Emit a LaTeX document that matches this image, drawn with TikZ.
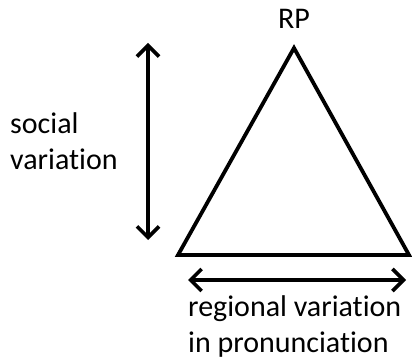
\documentclass[tikz,border=0pt]{standalone}
\usepackage{fontspec}
\setmainfont[Ligatures=NoCommon]{Carlito}
\usetikzlibrary{arrows.meta}

\tikzset{
	lbl/.style={inner sep=0pt, align=left, font=\fontsize{30}{36}\selectfont},
	dbl/.style={line width=3.6pt, {Straight Barb[length=11pt,width=22pt]}-{Straight Barb[length=11pt,width=22pt]}}
}

\begin{document}
\begin{tikzpicture}[x=1pt, y=-1pt]
	\useasboundingbox (0, 0) rectangle (412, 358);
	% triangle
	\coordinate (apex) at (294, 48);
	\coordinate (bl) at (178, 255);
	\coordinate (br) at (409, 255);
	\draw [line width=3.8pt, line join=miter] (apex) -- (bl) -- (br) -- cycle;
	\node [lbl, anchor=base] (rp) at (294, 29) {RP};
	% social axis
	\coordinate (vtop) at (148, 43);
	\coordinate (vbot) at (148, 240);
	\draw [dbl] (vtop) -- (vbot);
	\node [lbl, anchor=base west] (social) at (10, 170) {social\\variation};
	% regional axis
	\coordinate (hleft) at (188, 280);
	\coordinate (hright) at (406, 280);
	\draw [dbl] (hleft) -- (hright);
	\node [lbl, anchor=base west] (regional) at (188, 352) {regional variation\\in pronunciation};
\end{tikzpicture}
\end{document}
